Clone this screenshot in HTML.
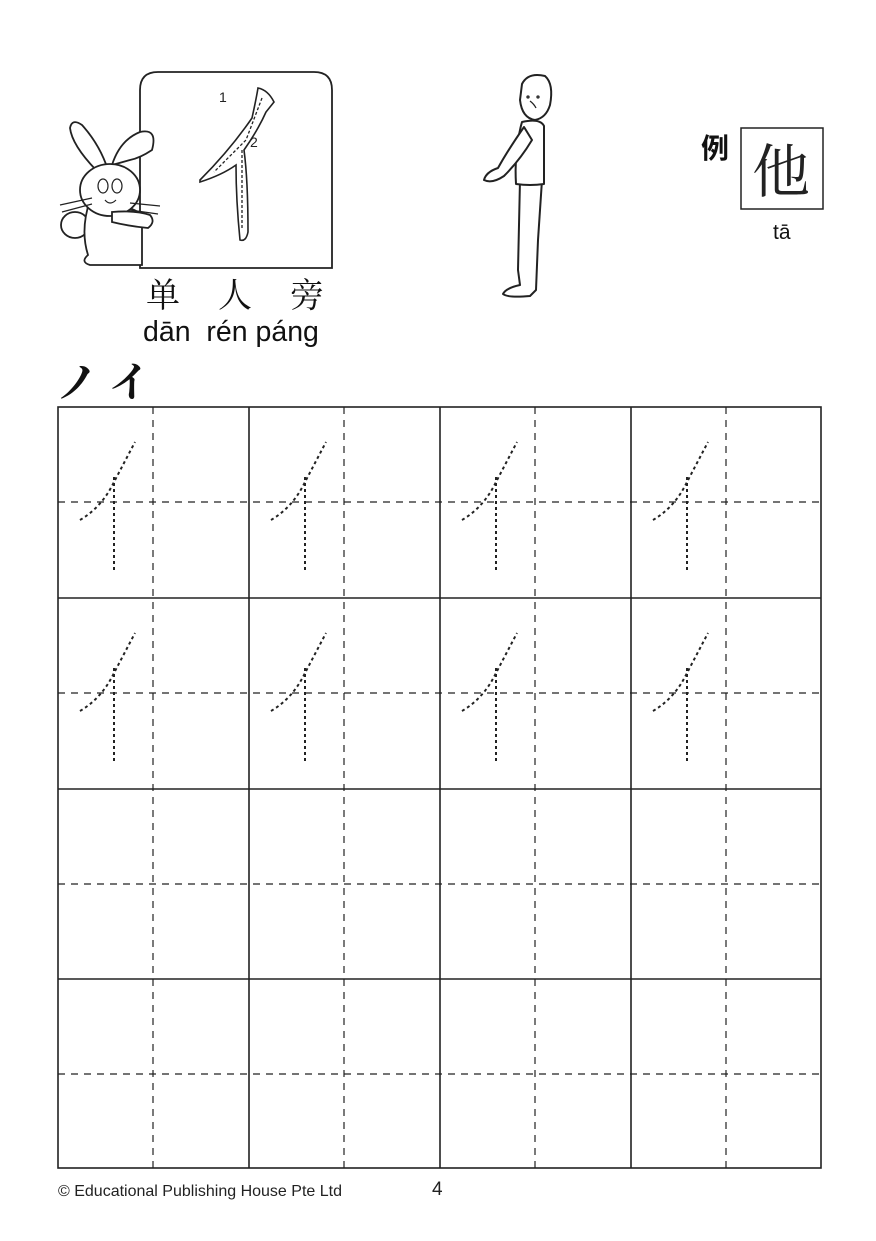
<!DOCTYPE html>
<html><head><meta charset="utf-8"><style>
html,body{margin:0;padding:0;background:#fff;}
body{width:876px;height:1241px;position:relative;overflow:hidden;font-family:"Liberation Sans","Noto Sans CJK SC",sans-serif;}
.t{position:absolute;white-space:nowrap;color:#111;}
</style></head><body>
<svg width="876" height="1241" style="position:absolute;left:0;top:0" xmlns="http://www.w3.org/2000/svg">
<defs>
<g id="ch" fill="none" stroke="#222" stroke-width="2" stroke-dasharray="3,3">
<path d="M22,113 Q44,100 56,75 L77,35"/>
<path d="M56,70 L56,166"/>
</g>
</defs>
<path d="M140,268 L140,90 Q140,72 158,72 L314,72 Q332,72 332,90 L332,268 Z" fill="#fff" stroke="#222" stroke-width="1.8"/>
<path d="M200,180 Q230,150 252,118 Q256,100 258,88 Q268,90 274,102 L266,112 Q258,130 244,150 Q248,180 248,232 Q246,242 240,240 Q236,200 236,165 Q222,175 200,182 Z" fill="#fff" stroke="#222" stroke-width="1.6"/>
<path d="M262,98 L246,140 L214,172" fill="none" stroke="#222" stroke-width="1.3" stroke-dasharray="3,2"/>
<path d="M242,150 L242,230" fill="none" stroke="#222" stroke-width="1.3" stroke-dasharray="3,2"/>
<text x="219" y="102" font-family="Liberation Sans" font-size="14" fill="#222">1</text>
<text x="250" y="147" font-family="Liberation Sans" font-size="14" fill="#222">2</text>
<g fill="#fff" stroke="#222" stroke-width="1.8">
<path d="M96,170 Q72,145 70,128 Q72,118 82,125 Q100,145 108,170 Z"/>
<path d="M112,165 Q120,140 140,132 Q158,128 152,150 Q140,158 130,160 Z"/>
<ellipse cx="75" cy="225" rx="14" ry="13"/>
<path d="M90,200 Q80,230 88,255 Q80,262 90,265 L142,265 L142,215 Q130,205 110,205 Z"/>
<ellipse cx="110" cy="190" rx="30" ry="26"/>
<path d="M112,212 Q135,210 150,215 Q156,222 148,228 Q128,226 112,222 Z"/>
</g>
<g fill="none" stroke="#222" stroke-width="1.2">
<ellipse cx="103" cy="186" rx="5" ry="7"/><ellipse cx="117" cy="186" rx="5" ry="7"/>
<path d="M105,200 Q110,206 116,200"/>
<path d="M60,205 L92,198 M62,212 L92,204 M130,203 L160,206 M130,210 L158,214"/>
</g>
<g fill="#fff" stroke="#222" stroke-width="2" stroke-linejoin="round">
<path d="M520,180 L518,270 L520,285 Q506,288 503,294 Q508,298 530,296 L536,290 L538,240 L542,180 Z"/>
<path d="M522,122 Q540,118 544,126 L544,184 Q530,186 516,184 Q514,150 522,122 Z"/>
<path d="M524,127 Q508,150 498,168 Q486,172 484,180 Q492,184 504,176 Q520,160 532,140 Z"/>
<path d="M522,84 Q528,72 545,76 Q554,84 550,105 Q546,118 535,120 Q522,118 520,100 Z"/>
</g>
<g fill="none" stroke="#222" stroke-width="1.3"><path d="M530,101 Q534,104 536,108"/><circle cx="528" cy="97" r="1"/><circle cx="538" cy="97" r="1"/></g>
<rect x="741" y="128" width="82" height="81" fill="#fff" stroke="#222" stroke-width="1.5"/>
<g fill="none" stroke="#222">
<g stroke-width="1.2" stroke-dasharray="7,6">
<path d="M153,407V1168M344,407V1168M535,407V1168M726,407V1168"/>
<path d="M58,502H821M58,693H821M58,884H821M58,1074H821"/>
</g>
<g stroke-width="1.6">
<rect x="58" y="407" width="763" height="761"/>
<path d="M249,407V1168M440,407V1168M631,407V1168"/>
<path d="M58,598H821M58,789H821M58,979H821"/>
</g>
</g>
<use href="#ch" x="58" y="407"/><use href="#ch" x="249" y="407"/><use href="#ch" x="440" y="407"/><use href="#ch" x="631" y="407"/>
<use href="#ch" x="58" y="598"/><use href="#ch" x="249" y="598"/><use href="#ch" x="440" y="598"/><use href="#ch" x="631" y="598"/>
</svg>
<div class="t" style="left:146px;top:268px;font-size:34px;font-family:'Noto Serif CJK SC',serif;letter-spacing:38px;">单人旁</div>
<div class="t" style="left:143px;top:316px;font-size:28.5px;">dān&nbsp; rén páng</div>
<div class="t" style="left:56px;top:350px;font-size:42px;font-weight:bold;font-family:'Noto Serif CJK SC',serif;">ノ イ</div>
<div class="t" style="left:701px;top:127px;font-size:28px;font-weight:bold;font-family:'Noto Sans CJK SC',sans-serif;">例</div>
<div class="t" style="left:752px;top:134px;font-size:58px;line-height:66px;font-family:'Noto Serif CJK SC',serif;color:#222;">他</div>
<div class="t" style="left:773px;top:221px;font-size:21px;">tā</div>
<div class="t" style="left:58px;top:1183px;font-size:16px;color:#222;">© Educational Publishing House Pte Ltd</div>
<div class="t" style="left:432px;top:1179px;font-size:19px;color:#222;">4</div>
</body></html>
